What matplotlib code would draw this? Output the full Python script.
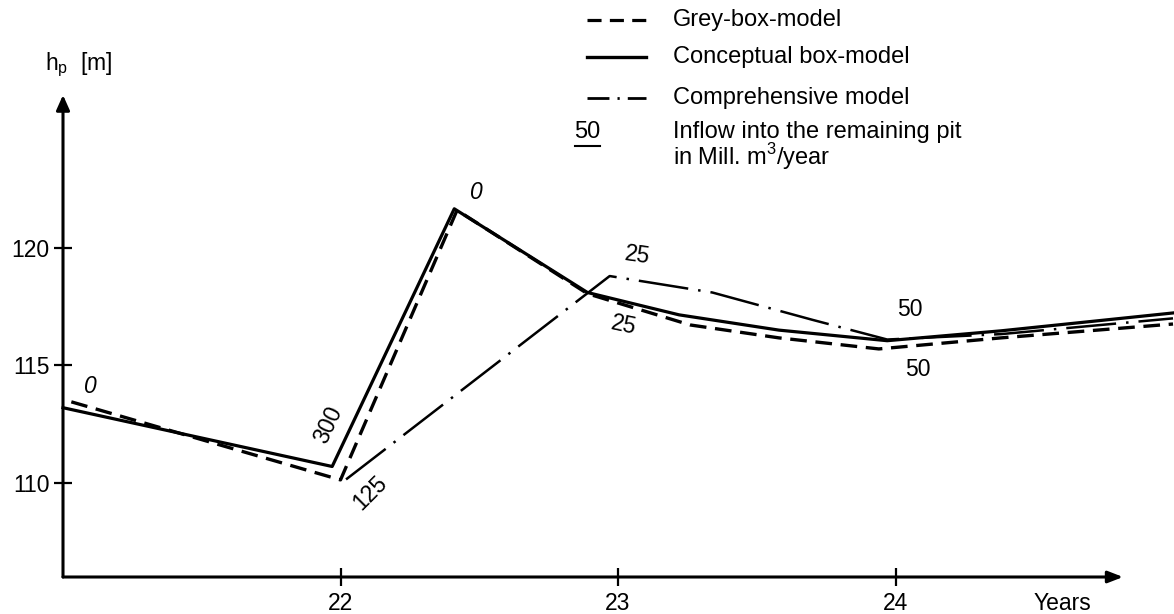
import matplotlib
matplotlib.use('Agg')
import matplotlib.pyplot as plt
from matplotlib.lines import Line2D

plt.rcParams['font.family'] = ['Liberation Sans', 'DejaVu Sans']

# ==================== DATA ====================
# grey-box model (dashed)
years_grey = [21.03, 22.0, 22.42, 22.89, 23.26, 23.58, 23.94, 24.38, 25.0]
h_grey = [113.45, 110.13, 121.6, 118.05, 116.72, 116.17, 115.7, 116.17, 116.76]

# conceptual box model (solid)
years_conc = [21.0, 21.97, 22.41, 22.89, 23.22, 23.58, 23.97, 24.38, 25.0]
h_conc = [113.2, 110.7, 121.66, 118.1, 117.15, 116.5, 116.05, 116.47, 117.23]

# comprehensive model (dash-dot)
years_comp = [22.02, 22.97, 23.34, 23.70, 23.97, 24.38, 25.0]
h_comp = [110.15, 118.8, 118.1, 116.94, 116.1, 116.33, 117.0]

x_ticks = [22, 23, 24]
y_ticks = [110, 115, 120]

# inflow labels: text, x, y, rotation, italic
inflow_labels = [
    ('0', 21.10, 114.09, 0, True),
    ('300', 21.955, 112.47, 65, False),
    ('125', 22.106, 109.57, 45, False),
    ('0', 22.49, 122.34, 0, True),
    ('25', 23.07, 119.66, -8, False),
    ('25', 23.02, 116.72, -12, False),
    ('50', 24.05, 117.36, 0, False),
    ('50', 24.08, 114.81, 0, False),
]

W, H = 1174, 614

# ==================== FIGURE ====================
fig = plt.figure(figsize=(W / 100, H / 100), dpi=100)
ax = fig.add_axes([63 / W, 37 / H, 1110 / W, 482 / H])
ax.set_xlim(21, 25.0)
ax.set_ylim(106, 126.5)

for s in ax.spines.values():
    s.set_visible(False)

# axis lines with arrow heads
ax.annotate('', xy=(24.82, 0), xytext=(21, 0),
            xycoords=('data', 'axes fraction'), textcoords=('data', 'axes fraction'),
            arrowprops=dict(arrowstyle='-|>,head_length=0.9,head_width=0.35',
                            color='black', lw=2.2, shrinkA=0, shrinkB=0),
            annotation_clip=False)
ax.annotate('', xy=(0, 126.5), xytext=(0, 106),
            xycoords=('axes fraction', 'data'), textcoords=('axes fraction', 'data'),
            arrowprops=dict(arrowstyle='-|>,head_length=0.9,head_width=0.4',
                            color='black', lw=2.2, shrinkA=0, shrinkB=0),
            annotation_clip=False)

ax.set_xticks(x_ticks)
ax.set_yticks(y_ticks)
ax.tick_params(direction='inout', length=13, width=1.6, labelsize=16.5, color='black')
ax.tick_params(axis='x', pad=4)
ax.tick_params(axis='y', pad=3)

ax.plot(years_grey, h_grey, color='black', lw=2.4, linestyle=(0, (5, 2.6)),
        clip_on=False)
ax.plot(years_conc, h_conc, color='black', lw=2.3, clip_on=False)
ax.plot(years_comp, h_comp, color='black', lw=1.8, linestyle=(0, (20, 4, 1, 4)),
        clip_on=False)

for txt, x, y, rot, it in inflow_labels:
    ax.text(x, y, txt, fontsize=16.5, rotation=rot, ha='center', va='center',
            style='italic' if it else 'normal', rotation_mode='anchor')

ax.annotate('Years', xy=(24.6, 0), xycoords=('data', 'axes fraction'),
            xytext=(0, -26), textcoords='offset pixels', ha='center', va='center',
            fontsize=16.5)

fig.text(45 / W, 1 - 70 / H, r'h$_\mathregular{p}$  [m]', fontsize=16.5,
         ha='left', va='baseline')

# ==================== LEGEND (manual) ====================
leg_x0, leg_x1, leg_tx = 587 / W, 646 / W, 673 / W
leg_rows = [
    (20, (0, (4.4, 2.6)), 2.3, 'Grey-box-model'),
    (57, '-', 2.4, 'Conceptual box-model'),
    (98, (0, (7.9, 2.9, 0.8, 2.9)), 2.0, 'Comprehensive model'),
]
for py, ls, lw, label in leg_rows:
    fig.add_artist(Line2D([leg_x0, leg_x1], [1 - py / H] * 2, color='black',
                          lw=lw, linestyle=ls, transform=fig.transFigure))
    fig.text(leg_tx, 1 - py / H, label, fontsize=17, ha='left', va='center')

fig.text(587 / W, 1 - 132 / H, '50', fontsize=17, ha='center', va='center')
fig.add_artist(Line2D([575 / W, 600 / W], [1 - 146 / H] * 2, color='black',
                      lw=1.5, transform=fig.transFigure))
fig.text(leg_tx, 1 - 132 / H, 'Inflow into the remaining pit', fontsize=17,
         ha='left', va='center')
fig.text(leg_tx, 1 - 157 / H, r'in Mill. m$^\mathregular{3}$/year', fontsize=17,
         ha='left', va='center')

fig.savefig('out.png', dpi=100)
